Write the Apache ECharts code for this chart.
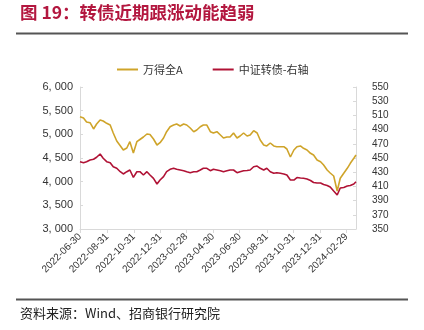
<!DOCTYPE html>
<html><head><meta charset="utf-8">
<script src="https://cdn.jsdelivr.net/npm/echarts@6/dist/echarts.min.js"></script>
<style>html,body{margin:0;padding:0;background:#fff}#c{width:424px;height:330px}</style>
</head><body><div id="c"></div>
<script>
const titleText = '图 19：转债近期跟涨动能趋弱';
const sourceText = '资料来源：Wind、招商银行研究院';
const seriesNames = ['万得全A', '中证转债-右轴'];
const tickDates = ['2022-06-30','2022-08-31','2022-10-31','2022-12-31','2023-02-28','2023-04-30','2023-06-30','2023-08-31','2023-10-31','2023-12-31','2024-02-29'];
const startDate = '2022-06-30';
const endDate = '2024-03-22';
const dates = ['2022-06-30','2022-07-08','2022-07-15','2022-07-23','2022-07-31','2022-08-07','2022-08-15','2022-08-22','2022-08-30','2022-09-07',
'2022-09-14','2022-09-22','2022-09-30','2022-10-07','2022-10-15','2022-10-22','2022-10-30','2022-11-07','2022-11-14','2022-11-22',
'2022-11-30','2022-12-07','2022-12-15','2022-12-23','2022-12-30','2023-01-07','2023-01-14','2023-01-22','2023-01-30','2023-02-06',
'2023-02-14','2023-02-22','2023-03-01','2023-03-09','2023-03-17','2023-03-24','2023-04-01','2023-04-08','2023-04-16','2023-04-24',
'2023-05-01','2023-05-09','2023-05-17','2023-05-24','2023-06-01','2023-06-08','2023-06-16','2023-06-24','2023-07-01','2023-07-09',
'2023-07-17','2023-07-24','2023-08-01','2023-08-09','2023-08-16','2023-08-24','2023-08-31','2023-09-08','2023-09-16','2023-09-23',
'2023-10-01','2023-10-09','2023-10-16','2023-10-24','2023-11-01','2023-11-08','2023-11-16','2023-11-23','2023-12-01','2023-12-09',
'2023-12-16','2023-12-24','2024-01-01','2024-01-08','2024-01-16','2024-01-23','2024-01-31','2024-02-08','2024-02-15','2024-02-23',
'2024-03-02','2024-03-09','2024-03-17','2024-03-22'];
const windA = [5373,5345,5261,5246,5113,5218,5303,5282,5233,5197,
5028,4859,4760,4669,4711,4844,4606,4844,4891,4944,
5007,4996,4901,4775,4823,4923,5056,5161,5197,5218,
5176,5218,5197,5134,5056,5092,5161,5197,5197,5056,
5028,5056,4986,4923,4944,4944,5028,4923,4965,5028,
4965,4986,5077,5028,4880,4775,4754,4817,4754,4739,
4739,4739,4690,4521,4669,4739,4754,4705,4669,4599,
4563,4458,4422,4352,4246,4183,4120,3803,4071,4177,
4282,4388,4494,4563];
const cbIndex = [444.8,443.4,444.8,447.2,448.2,451.0,455.6,449.6,444.8,443.4,
437.7,435.5,430.7,427.5,430.7,433.1,422.8,430.7,430.7,426.1,
430.7,426.1,421.4,413.4,419.0,423.7,430.7,434.1,435.5,434.1,
433.1,432.1,430.7,429.3,430.7,430.7,433.1,435.5,435.5,432.1,
434.1,433.1,432.1,430.7,432.1,433.1,433.1,429.3,430.7,432.1,
432.4,433.1,437.7,438.7,435.5,433.1,435.5,430.7,428.5,429.3,
428.5,427.5,426.1,419.0,419.0,422.5,421.8,421.4,420.4,418.3,
415.5,414.8,414.8,412.7,411.3,409.2,403.5,397.9,407.7,408.5,
410.6,411.3,413.4,416.6];

// calendar-day categories
const days = [];
(function(){
  let d = new Date(startDate + 'T00:00:00Z');
  const e = new Date(endDate + 'T00:00:00Z');
  while (d <= e) { days.push(d.toISOString().slice(0,10)); d = new Date(d.getTime() + 86400000); }
})();
const tickSet = new Set(tickDates);
const showTick = (i, v) => tickSet.has(v);

const chart = echarts.init(document.getElementById('c'), null, {renderer:'canvas'});
const axisColor = '#d9d9d9';
const labelColor = '#333';
chart.setOption({
  animation: false,
  textStyle: {fontFamily: 'Liberation Sans, Arial, sans-serif'},
  grid: {left: 80, right: 68, top: 87, bottom: 101, containLabel: false},
  legend: {
    top: 59, left: 112, itemWidth: 21, itemHeight: 2, itemGap: 30,
    icon: 'rect',
    textStyle: {fontFamily: 'Noto Sans CJK SC', fontSize: 11, color: '#333'},
    data: seriesNames
  },
  xAxis: {
    type: 'category', data: days, boundaryGap: false,
    axisLine: {lineStyle: {color: axisColor}},
    axisTick: {interval: showTick, length: 4, lineStyle: {color: axisColor}},
    axisLabel: {interval: showTick, rotate: 45, fontSize: 10, color: labelColor, margin: 6}
  },
  yAxis: [{
    type: 'value', min: 3000, max: 6000, interval: 500,
    axisLine: {show: true, lineStyle: {color: axisColor}},
    axisTick: {show: true, inside: true, length: 3, lineStyle: {color: axisColor}},
    splitLine: {show: false},
    axisLabel: {fontSize: 11, color: labelColor, margin: 7,
      formatter: v => { const s = String(v); return s.length > 3 ? s.slice(0, s.length-3) + ', ' + s.slice(-3) : s; }}
  }, {
    type: 'value', min: 350, max: 550, interval: 20, position: 'right',
    axisLine: {show: true, lineStyle: {color: axisColor}},
    axisTick: {show: true, inside: true, length: 3, lineStyle: {color: axisColor}},
    splitLine: {show: false},
    axisLabel: {fontSize: 10, color: labelColor, margin: 16}
  }],
  series: [{
    name: seriesNames[0], type: 'line', yAxisIndex: 0, showSymbol: false, symbol: 'none',
    data: dates.map((d, i) => [d, windA[i]]),
    lineStyle: {color: '#CFA42A', width: 1.6}, itemStyle: {color: '#CFA42A'}
  }, {
    name: seriesNames[1], type: 'line', yAxisIndex: 1, showSymbol: false, symbol: 'none',
    data: dates.map((d, i) => [d, cbIndex[i]]),
    lineStyle: {color: '#B01235', width: 1.6}, itemStyle: {color: '#B01235'}
  }],
  graphic: [
    {type: 'text', left: 20, top: 4, style: {text: titleText, fill: '#B3173F', font: 'bold 17.5px "Noto Sans CJK SC"'}},
    {type: 'rect', shape: {x: 16, y: 32.5, width: 392, height: 2}, style: {fill: '#555'}},
    {type: 'rect', shape: {x: 16, y: 298.5, width: 392, height: 2}, style: {fill: '#555'}},
    {type: 'text', left: 20, top: 307, style: {text: sourceText, fill: '#222', font: '13px "Noto Sans CJK SC"'}}
  ]
});
</script>
</body></html>
